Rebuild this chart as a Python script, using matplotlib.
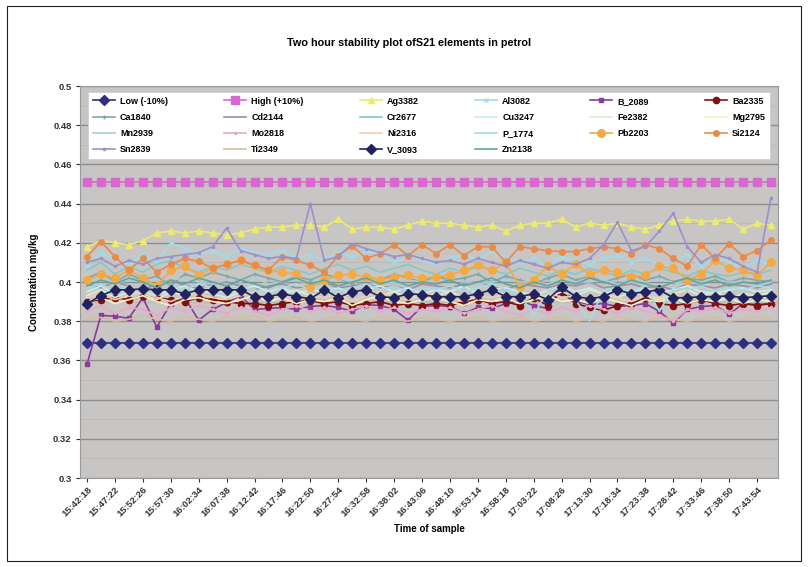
"""
Two hour stability plot of 21 elements in petrol (ICP-OES check standard).
"""

import matplotlib

matplotlib.use("Agg")
import matplotlib.pyplot as plt
from matplotlib.patches import Rectangle
import numpy as np

plt.rcParams["font.family"] = ["Liberation Sans", "DejaVu Sans"]

TIME_LABELS = [
    "15:42:18", "15:47:22", "15:52:26", "15:57:30", "16:02:34", "16:07:38",
    "16:12:42", "16:17:46", "16:22:50", "16:27:54", "16:32:58", "16:38:02",
    "16:43:06", "16:48:10", "16:53:14", "16:58:18", "17:03:22", "17:08:26",
    "17:13:30", "17:18:34", "17:23:38", "17:28:42", "17:33:46", "17:38:50",
    "17:43:54",
]
N_SAMPLES = 50

# control limits (target 0.41 mg/kg +/- 10%)
LOW = [0.369] * N_SAMPLES
HIGH = [0.451] * N_SAMPLES

AG = [0.418, 0.421, 0.420, 0.419, 0.421, 0.425, 0.426, 0.425, 0.426, 0.425,
      0.424, 0.425, 0.427, 0.428, 0.428, 0.429, 0.429, 0.428, 0.432, 0.427,
      0.428, 0.428, 0.427, 0.429, 0.431, 0.430, 0.430, 0.429, 0.428, 0.429,
      0.426, 0.429, 0.430, 0.430, 0.432, 0.428, 0.430, 0.429, 0.430, 0.428,
      0.427, 0.429, 0.431, 0.432, 0.431, 0.431, 0.432, 0.427, 0.430, 0.429]
AL = [0.408, 0.415, 0.411, 0.409, 0.414, 0.410, 0.420, 0.417, 0.414, 0.416,
      0.413, 0.417, 0.415, 0.414, 0.416, 0.412, 0.414, 0.411, 0.415, 0.413,
      0.416, 0.414, 0.410, 0.413, 0.411, 0.409, 0.412, 0.414, 0.411, 0.416,
      0.413, 0.410, 0.412, 0.408, 0.413, 0.411, 0.409, 0.412, 0.414, 0.410,
      0.412, 0.409, 0.411, 0.414, 0.408, 0.412, 0.410, 0.407, 0.411, 0.409]
B = [0.358, 0.383, 0.3825, 0.3815, 0.392, 0.377, 0.389, 0.392, 0.3805, 0.386,
     0.3895, 0.393, 0.386, 0.3865, 0.387, 0.386, 0.3875, 0.388, 0.387, 0.385,
     0.3885, 0.388, 0.386, 0.3805, 0.3875, 0.388, 0.3875, 0.384, 0.387, 0.3865,
     0.389, 0.3905, 0.388, 0.3865, 0.3975, 0.390, 0.3885, 0.389, 0.3875, 0.388,
     0.389, 0.385, 0.379, 0.386, 0.3875, 0.388, 0.3835, 0.389, 0.3885, 0.389]
BA = [0.390, 0.391, 0.392, 0.391, 0.393, 0.392, 0.391, 0.390, 0.392, 0.391,
      0.390, 0.389, 0.389, 0.388, 0.389, 0.390, 0.3905, 0.389, 0.390, 0.388,
      0.389, 0.390, 0.388, 0.389, 0.388, 0.389, 0.388, 0.390, 0.391, 0.389,
      0.390, 0.388, 0.392, 0.388, 0.395, 0.389, 0.387, 0.3855, 0.388, 0.389,
      0.392, 0.389, 0.388, 0.389, 0.391, 0.389, 0.388, 0.389, 0.388, 0.389]
CA = [0.402, 0.405, 0.400, 0.404, 0.401, 0.403, 0.398, 0.404, 0.402, 0.405,
      0.403, 0.401, 0.404, 0.402, 0.400, 0.403, 0.401, 0.404, 0.402, 0.399,
      0.403, 0.401, 0.404, 0.402, 0.400, 0.403, 0.401, 0.402, 0.404, 0.400,
      0.403, 0.401, 0.399, 0.402, 0.404, 0.401, 0.403, 0.400, 0.402, 0.404,
      0.401, 0.403, 0.400, 0.402, 0.401, 0.403, 0.400, 0.402, 0.401, 0.400]
CD = [0.399, 0.397, 0.400, 0.398, 0.396, 0.399, 0.401, 0.398, 0.397, 0.399,
      0.400, 0.398, 0.396, 0.398, 0.399, 0.397, 0.398, 0.400, 0.397, 0.398,
      0.399, 0.397, 0.398, 0.396, 0.399, 0.398, 0.397, 0.399, 0.400, 0.398,
      0.396, 0.399, 0.398, 0.397, 0.399, 0.398, 0.400, 0.397, 0.398, 0.399,
      0.397, 0.398, 0.396, 0.399, 0.398, 0.397, 0.399, 0.398, 0.397, 0.399]
CR = [0.406, 0.410, 0.404, 0.408, 0.405, 0.409, 0.411, 0.407, 0.405, 0.408,
      0.406, 0.409, 0.407, 0.405, 0.408, 0.406, 0.404, 0.407, 0.409, 0.406,
      0.408, 0.405, 0.407, 0.409, 0.406, 0.404, 0.407, 0.405, 0.408, 0.406,
      0.404, 0.407, 0.405, 0.403, 0.406, 0.404, 0.407, 0.405, 0.403, 0.406,
      0.404, 0.407, 0.405, 0.403, 0.406, 0.404, 0.403, 0.405, 0.404, 0.406]
CU = [0.395, 0.398, 0.394, 0.397, 0.395, 0.393, 0.396, 0.398, 0.395, 0.397,
      0.394, 0.396, 0.398, 0.395, 0.397, 0.394, 0.396, 0.395, 0.397, 0.394,
      0.396, 0.398, 0.395, 0.397, 0.394, 0.396, 0.395, 0.398, 0.394, 0.396,
      0.397, 0.395, 0.393, 0.396, 0.398, 0.395, 0.397, 0.394, 0.396, 0.395,
      0.397, 0.394, 0.396, 0.398, 0.395, 0.394, 0.396, 0.397, 0.395, 0.396]
FE = [0.393, 0.396, 0.392, 0.395, 0.394, 0.391, 0.395, 0.393, 0.396, 0.394,
      0.392, 0.395, 0.393, 0.391, 0.394, 0.396, 0.393, 0.395, 0.392, 0.394,
      0.396, 0.393, 0.395, 0.392, 0.394, 0.393, 0.395, 0.392, 0.394, 0.396,
      0.393, 0.391, 0.394, 0.392, 0.395, 0.393, 0.396, 0.394, 0.392, 0.395,
      0.393, 0.391, 0.394, 0.396, 0.393, 0.395, 0.392, 0.394, 0.393, 0.395]
MG = [0.390, 0.392, 0.389, 0.391, 0.393, 0.390, 0.388, 0.391, 0.392, 0.390,
      0.389, 0.391, 0.393, 0.390, 0.392, 0.389, 0.391, 0.390, 0.392, 0.388,
      0.391, 0.393, 0.390, 0.389, 0.391, 0.392, 0.390, 0.388, 0.391, 0.390,
      0.392, 0.389, 0.391, 0.393, 0.390, 0.391, 0.389, 0.392, 0.390, 0.388,
      0.391, 0.390, 0.392, 0.389, 0.391, 0.390, 0.392, 0.389, 0.391, 0.390]
MN = [0.400, 0.402, 0.399, 0.401, 0.400, 0.398, 0.401, 0.402, 0.400, 0.399,
      0.401, 0.400, 0.402, 0.399, 0.400, 0.401, 0.399, 0.400, 0.402, 0.400,
      0.401, 0.399, 0.400, 0.401, 0.400, 0.400, 0.401, 0.400, 0.399, 0.400,
      0.401, 0.400, 0.400, 0.399, 0.401, 0.400, 0.400, 0.401, 0.399, 0.400,
      0.400, 0.401, 0.400, 0.399, 0.400, 0.401, 0.400, 0.400, 0.399, 0.400]
MO = [0.385, 0.388, 0.384, 0.387, 0.386, 0.383, 0.387, 0.385, 0.388, 0.386,
      0.384, 0.387, 0.385, 0.383, 0.386, 0.388, 0.385, 0.387, 0.384, 0.386,
      0.388, 0.385, 0.387, 0.384, 0.386, 0.385, 0.387, 0.384, 0.386, 0.388,
      0.385, 0.383, 0.386, 0.384, 0.387, 0.385, 0.388, 0.386, 0.384, 0.387,
      0.385, 0.383, 0.380, 0.386, 0.385, 0.387, 0.384, 0.386, 0.385, 0.387]
NI = [0.392, 0.394, 0.391, 0.393, 0.395, 0.392, 0.390, 0.393, 0.394, 0.392,
      0.391, 0.393, 0.395, 0.392, 0.394, 0.391, 0.393, 0.392, 0.394, 0.390,
      0.393, 0.395, 0.392, 0.391, 0.393, 0.394, 0.392, 0.390, 0.393, 0.392,
      0.394, 0.391, 0.393, 0.395, 0.392, 0.393, 0.391, 0.394, 0.392, 0.390,
      0.393, 0.392, 0.394, 0.391, 0.393, 0.392, 0.394, 0.391, 0.393, 0.392]
P = [0.397, 0.399, 0.395, 0.398, 0.396, 0.394, 0.398, 0.396, 0.399, 0.397,
     0.395, 0.398, 0.396, 0.394, 0.397, 0.399, 0.396, 0.398, 0.395, 0.397,
     0.399, 0.396, 0.398, 0.395, 0.397, 0.396, 0.398, 0.395, 0.397, 0.399,
     0.396, 0.394, 0.383, 0.396, 0.398, 0.391, 0.380, 0.396, 0.397, 0.395,
     0.398, 0.385, 0.397, 0.396, 0.398, 0.395, 0.397, 0.396, 0.398, 0.397]
PB = [0.401, 0.404, 0.402, 0.406, 0.402, 0.398, 0.406, 0.408, 0.4035, 0.407,
      0.409, 0.411, 0.4085, 0.406, 0.405, 0.404, 0.3975, 0.401, 0.4035, 0.404,
      0.4025, 0.401, 0.4025, 0.4035, 0.402, 0.4025, 0.4035, 0.406, 0.4085, 0.406,
      0.410, 0.3975, 0.401, 0.408, 0.404, 0.409, 0.404, 0.406, 0.405, 0.4025,
      0.4035, 0.408, 0.407, 0.401, 0.404, 0.411, 0.407, 0.406, 0.4035, 0.410]
SI = [0.413, 0.4205, 0.413, 0.406, 0.412, 0.405, 0.409, 0.412, 0.4105, 0.407,
      0.409, 0.411, 0.4085, 0.406, 0.413, 0.411, 0.4085, 0.405, 0.4135, 0.4185,
      0.412, 0.4145, 0.419, 0.4135, 0.419, 0.4145, 0.419, 0.4135, 0.418, 0.418,
      0.410, 0.418, 0.417, 0.416, 0.4155, 0.4155, 0.417, 0.418, 0.417, 0.4145,
      0.419, 0.417, 0.412, 0.408, 0.419, 0.412, 0.4195, 0.413, 0.416, 0.4215]
SN = [0.410, 0.412, 0.408, 0.411, 0.409, 0.412, 0.413, 0.414, 0.415, 0.418,
      0.4275, 0.416, 0.414, 0.412, 0.413, 0.412, 0.440, 0.411, 0.413, 0.4195,
      0.417, 0.415, 0.413, 0.414, 0.412, 0.410, 0.411, 0.409, 0.412, 0.410,
      0.408, 0.411, 0.409, 0.407, 0.410, 0.409, 0.412, 0.419, 0.4305, 0.416,
      0.418, 0.426, 0.435, 0.418, 0.410, 0.414, 0.412, 0.408, 0.405, 0.443]
TI = [0.381, 0.382, 0.380, 0.381, 0.383, 0.381, 0.380, 0.382, 0.381, 0.380,
      0.382, 0.381, 0.383, 0.380, 0.381, 0.382, 0.380, 0.381, 0.382, 0.381,
      0.380, 0.382, 0.381, 0.380, 0.382, 0.381, 0.380, 0.381, 0.382, 0.380,
      0.381, 0.382, 0.380, 0.381, 0.382, 0.380, 0.381, 0.380, 0.382, 0.381,
      0.380, 0.382, 0.381, 0.380, 0.381, 0.382, 0.380, 0.381, 0.382, 0.381]
V = [0.389, 0.393, 0.396, 0.396, 0.3965, 0.396, 0.396, 0.394, 0.396, 0.396,
     0.396, 0.396, 0.3925, 0.3925, 0.394, 0.3925, 0.3915, 0.396, 0.392, 0.395,
     0.396, 0.3925, 0.392, 0.394, 0.3935, 0.3925, 0.3925, 0.3925, 0.394, 0.396,
     0.3925, 0.3925, 0.394, 0.391, 0.3975, 0.3925, 0.3915, 0.3925, 0.396, 0.394,
     0.395, 0.396, 0.392, 0.392, 0.3925, 0.3925, 0.393, 0.392, 0.3925, 0.393]
ZN = [0.398, 0.401, 0.399, 0.402, 0.400, 0.397, 0.401, 0.399, 0.402, 0.400,
      0.398, 0.401, 0.399, 0.397, 0.400, 0.402, 0.399, 0.401, 0.398, 0.400,
      0.402, 0.399, 0.401, 0.398, 0.400, 0.399, 0.401, 0.398, 0.400, 0.402,
      0.399, 0.397, 0.400, 0.398, 0.401, 0.399, 0.402, 0.400, 0.398, 0.401,
      0.399, 0.397, 0.400, 0.402, 0.399, 0.401, 0.398, 0.400, 0.399, 0.401]

# (label, data, colour, marker, marker size)
SERIES = [
    ("Low (-10%)", LOW, "#2e2e82", "D", 5),
    ("High (+10%)", HIGH, "#d868d0", "s", 5.5),
    ("Ag3382", AG, "#ecea70", "^", 4),
    ("Al3082", AL, "#9fdcec", "x", 3),
    ("B_2089", B, "#8a3a9a", "s", 3.5),
    ("Ba2335", BA, "#801010", "o", 4.5),
    ("Ca1840", CA, "#7fa8a8", "+", 3),
    ("Cd2144", CD, "#9a8fa8", None, 0),
    ("Cr2677", CR, "#7fcaca", None, 0),
    ("Cu3247", CU, "#c8ecf4", None, 0),
    ("Fe2382", FE, "#d4f0cc", None, 0),
    ("Mg2795", MG, "#f6f0c0", None, 0),
    ("Mn2939", MN, "#a8cce0", None, 0),
    ("Mo2818", MO, "#e8a8c8", ".", 3),
    ("Ni2316", NI, "#f2cdb4", None, 0),
    ("P_1774", P, "#a6dce4", None, 0),
    ("Pb2203", PB, "#f4aa44", "o", 5.5),
    ("Si2124", SI, "#e88a4a", "o", 4),
    ("Sn2839", SN, "#9c90cc", ".", 3),
    ("Ti2349", TI, "#d8bca0", None, 0),
    ("V_3093", V, "#22225e", "D", 5),
    ("Zn2138", ZN, "#5ea898", None, 0),
]

fig = plt.figure(figsize=(8.08, 5.67), dpi=100)
ax = fig.add_axes([80 / 808, 1 - 478 / 567, 698 / 808, 392 / 567])

x = np.arange(N_SAMPLES)
handles = []
for label, data, color, marker, ms in SERIES:
    (h,) = ax.plot(x, data, color=color, linewidth=1.2, marker=marker,
                   markersize=ms, markeredgecolor=color, label=label)
    handles.append(h)

ax.set_facecolor("#c8c6c4")
ax.set_xlim(-0.5, N_SAMPLES - 0.5)
ax.set_ylim(0.3, 0.5)
ax.set_yticks(np.arange(0.30, 0.501, 0.02))
ax.set_yticklabels(["0.3", "0.32", "0.34", "0.36", "0.38", "0.4", "0.42",
                    "0.44", "0.46", "0.48", "0.5"])
ax.set_yticks(np.arange(0.31, 0.50, 0.02), minor=True)
ax.grid(True, axis="y", which="major", color="#8c8c8c", linewidth=1.0)
ax.grid(True, axis="y", which="minor", color="#bdbbb9", linewidth=0.8)
ax.set_axisbelow(True)

ax.set_xticks(x[::2])
ax.set_xticklabels(TIME_LABELS, rotation=45, ha="right", rotation_mode="anchor")
ax.tick_params(axis="x", labelsize=6.8, length=3, pad=2, colors="#333333")
ax.tick_params(axis="y", labelsize=6.8, length=3, pad=3, colors="#333333")
ax.tick_params(axis="y", which="minor", length=0)
for lab in ax.get_xticklabels() + ax.get_yticklabels():
    lab.set_fontweight("bold")
for side in ("left", "bottom", "top", "right"):
    ax.spines[side].set_color("#9a9a9a")
    ax.spines[side].set_linewidth(0.8)

ax.set_ylabel("Concentration mg/kg", fontsize=7, fontweight="bold", labelpad=10)
ax.set_xlabel("Time of sample", fontsize=7, fontweight="bold", labelpad=4)

# legend laid out row by row like the spreadsheet: reorder for column filling
ncol = 6
order = [r * ncol + c for c in range(ncol) for r in range(4)
         if r * ncol + c < len(handles)]
leg = ax.legend([handles[i] for i in order], [handles[i].get_label() for i in order],
                ncol=ncol, loc="upper left", mode="expand",
                bbox_to_anchor=(0.005, 0.0, 0.99, 0.997),
                frameon=True, fancybox=False, framealpha=1.0,
                handlelength=2.4, handletextpad=0.6, labelspacing=0.8,
                borderpad=0.55, columnspacing=1.0,
                prop={"weight": "bold", "size": 6.5})
leg.get_frame().set_facecolor("white")
leg.get_frame().set_edgecolor("#d0d0d0")
leg.get_frame().set_linewidth(0.6)

fig.text(409 / 808, 1 - 43 / 567, "Two hour stability plot ofS21 elements in petrol",
         ha="center", va="center", fontsize=7.8, fontweight="bold")

fig.patches.append(Rectangle((7 / 808, 6 / 567), 794 / 808, 555 / 567,
                             transform=fig.transFigure, fill=False,
                             edgecolor="#222222", linewidth=0.8))

fig.savefig("out.png", dpi=100)
plt.close(fig)
